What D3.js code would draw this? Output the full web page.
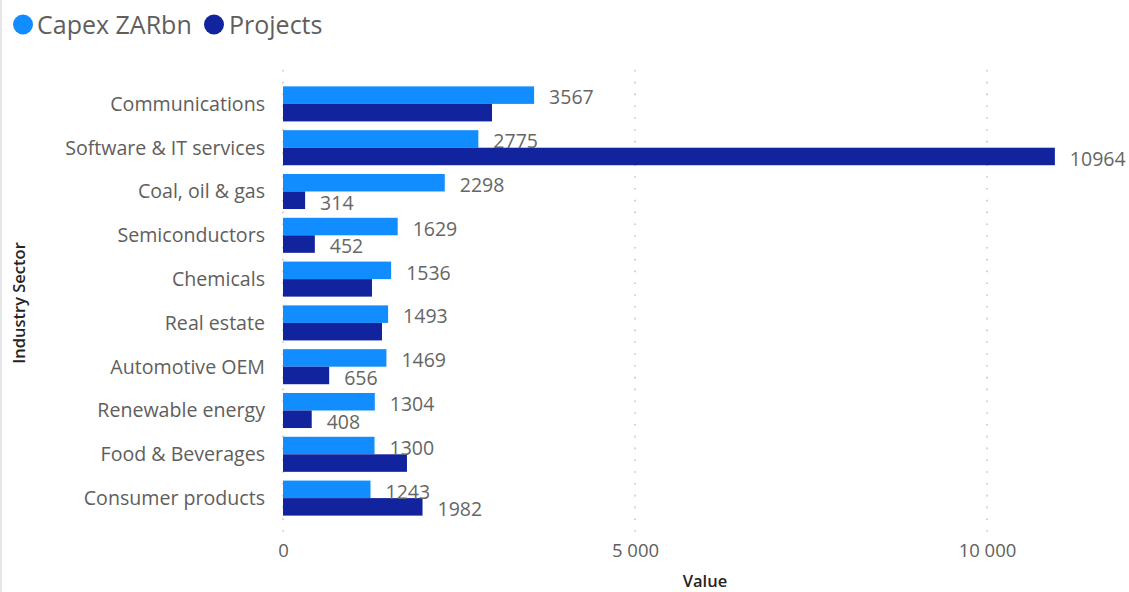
<!DOCTYPE html>
<html>
<head>
<meta charset="utf-8">
<script src="https://cdn.jsdelivr.net/npm/d3@7"></script>
<style>
  html, body { margin: 0; padding: 0; background: #fff; }
  svg { display: block; font-family: "Open Sans", "Noto Sans", sans-serif; }
</style>
</head>
<body>
<svg id="chart" width="1129" height="592"></svg>
<script>
// Sectors, top to bottom
const sectors = [
  "Communications", "Software & IT services", "Coal, oil & gas", "Semiconductors",
  "Chemicals", "Real estate", "Automotive OEM", "Renewable energy",
  "Food & Beverages", "Consumer products"
];
const seriesNames = ["Capex ZARbn", "Projects"];
const capex    = [3567, 2775, 2298, 1629, 1536, 1493, 1469, 1304, 1300, 1243];
const projects = [2969, 10964, 314, 452, 1264, 1406, 656, 408, 1761, 1982];
const xTicks = [0, 5000, 10000];
const colors = ["#118DFF", "#12239E"];

const svg = d3.select("#chart");
const W = 1129, H = 592;

// light frame edge on the left
svg.append("rect").attr("x", 0).attr("y", 0).attr("width", 2).attr("height", H).attr("fill", "#e6e6e6");

const x = d3.scaleLinear().domain([0, 10000]).range([283, 987]);
const y = d3.scaleBand().domain(sectors).range([82, 520]).paddingInner(0.2).paddingOuter(0.1);
const ySub = d3.scaleBand().domain(seriesNames).range([0, y.bandwidth()]);

// dotted vertical gridlines
svg.append("g").selectAll("line").data(xTicks).join("line")
  .attr("x1", d => x(d)).attr("x2", d => x(d))
  .attr("y1", 70).attr("y2", 532)
  .attr("stroke", "#c8c8c8").attr("stroke-width", 1.6)
  .attr("stroke-dasharray", "1.6,10.2");

// x axis tick labels
const fmt = d => d3.format(",")(d).replace(/,/g, " ");
const xAxis = d3.axisBottom(x).tickValues(xTicks).tickFormat(fmt).tickSize(0).tickPadding(0);
const gx = svg.append("g").attr("transform", "translate(0,543)").call(xAxis);
gx.select(".domain").remove();
gx.selectAll("text").attr("font-size", 18.5).attr("fill", "#605e5c")
  .attr("font-family", "Open Sans, sans-serif").attr("dy", "0.75em").attr("y", 0);

// y axis category labels
const yAxis = d3.axisLeft(y).tickSize(0).tickPadding(0);
const gy = svg.append("g").attr("transform", "translate(265,0)").call(yAxis);
gy.select(".domain").remove();
gy.selectAll("text").attr("font-size", 19.6).attr("fill", "#605e5c")
  .attr("font-family", "Open Sans, sans-serif").attr("dy", "0.35em");

// bars
const rows = sectors.map((s, i) => ({ sector: s, vals: [capex[i], projects[i]] }));
const groups = svg.append("g").selectAll("g").data(rows).join("g")
  .attr("transform", d => `translate(0,${y(d.sector)})`);
groups.selectAll("rect").data(d => d.vals.map((v, k) => ({ v, k }))).join("rect")
  .attr("x", x(0))
  .attr("y", d => ySub(seriesNames[d.k]))
  .attr("width", d => x(d.v) - x(0))
  .attr("height", ySub.bandwidth())
  .attr("fill", d => colors[d.k]);

// value labels: capex first, projects hidden when crowding the capex label
const labelFont = 19.5;
const tmp = svg.append("text").attr("font-size", labelFont).attr("font-family", "Open Sans, sans-serif");
const textW = s => { tmp.text(s); return tmp.node().getComputedTextLength(); };
const labels = [];
rows.forEach(r => {
  const cx0 = x(r.vals[0]) + 15, cw = textW(String(r.vals[0]));
  labels.push({ sector: r.sector, k: 0, v: r.vals[0], x: cx0 });
  const px0 = x(r.vals[1]) + 15, pw = textW(String(r.vals[1]));
  const pad = 3;
  const overlap = px0 < cx0 + cw + pad && px0 + pw + pad > cx0;
  if (!overlap) labels.push({ sector: r.sector, k: 1, v: r.vals[1], x: px0 });
});
tmp.remove();
svg.append("g").selectAll("text").data(labels).join("text")
  .attr("x", d => d.x)
  .attr("y", d => y(d.sector) + ySub(seriesNames[d.k]) + ySub.bandwidth() / 2 + 2.5)
  .attr("dy", "0.35em")
  .attr("font-size", labelFont).attr("fill", "#666666")
  .text(d => d.v);

// axis titles
svg.append("text").attr("x", 705).attr("y", 587).attr("text-anchor", "middle")
  .attr("font-size", 16.5).attr("font-weight", 600).attr("fill", "#252423").text("Value");
svg.append("text").attr("transform", "translate(25,303) rotate(-90)").attr("text-anchor", "middle")
  .attr("font-size", 16.5).attr("font-weight", 600).attr("fill", "#252423").text("Industry Sector");

// legend
const legend = svg.append("g");
const legendItems = [{ name: seriesNames[0], cx: 23, tx: 37 }, { name: seriesNames[1], cx: 214, tx: 229 }];
legendItems.forEach((it, i) => {
  legend.append("circle").attr("cx", it.cx).attr("cy", 24.5).attr("r", 10).attr("fill", colors[i]);
  legend.append("text").attr("x", it.tx).attr("y", 25).attr("dy", "0.35em")
    .attr("font-size", 25).attr("fill", "#605e5c").text(it.name);
});
</script>
</body>
</html>
